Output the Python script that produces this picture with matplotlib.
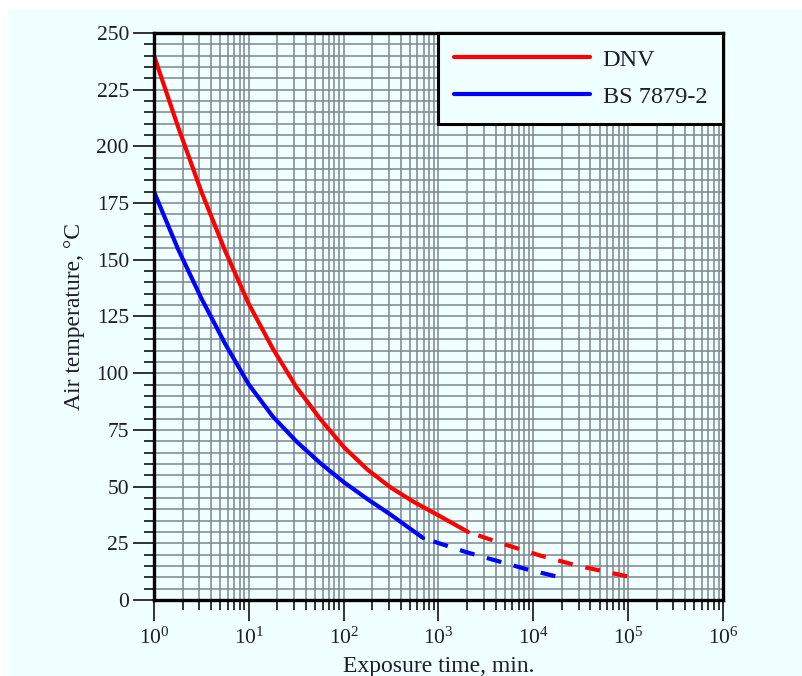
import matplotlib
matplotlib.use('Agg')
from matplotlib import pyplot as plt
from matplotlib.patches import Rectangle
from matplotlib.ticker import LogLocator, MultipleLocator, FixedLocator, NullFormatter
import numpy as np

# curves (time in min, temperature in degC)
dnv_t = [1, 1.78, 3.16, 5.62, 10, 17.8, 31.6, 56.2, 100, 178, 316, 562, 1000, 2050]
dnv_T = [240, 209, 180, 154, 130.5, 111, 94, 80, 67.5, 57.5, 49.5, 43, 37.3, 30]
dnv_t_ext = [2050, 5000, 12000, 30000, 118000]
dnv_T_ext = [30, 24.5, 19.5, 15, 9.7]

bs_t = [1, 1.78, 3.16, 5.62, 10, 17.8, 31.6, 56.2, 100, 178, 316, 500, 690]
bs_T = [180, 155, 133, 113, 95, 81, 70, 60.5, 52, 44.5, 37.5, 31.5, 27.3]
bs_t_ext = [690, 2000, 8600, 20500]
bs_T_ext = [27.3, 21, 13.5, 9.7]

labels = ['DNV', 'BS 7879-2']
colors = ['#ff0000', '#0000ff']

bg = '#f0ffff'
txt = '#1c1c2e'
plt.rcParams['font.family'] = ['Liberation Serif', 'DejaVu Serif']
plt.rcParams['mathtext.fontset'] = 'custom'
plt.rcParams['mathtext.rm'] = 'Liberation Serif'

fig = plt.figure(figsize=(8.03, 6.76), dpi=100, facecolor='white')
fig.patches.append(Rectangle((8/803, 0), 1, 1 - 9/676, transform=fig.transFigure,
                             facecolor=bg, edgecolor='none', zorder=-10))
ax = fig.add_axes([154/803, 1 - 600/676, 569/803, 567/676])
ax.set_facecolor(bg)

ax.set_xscale('log')
ax.set_xlim(1, 1e6)
ax.set_ylim(0, 250)

gap_first = (3.6 * 3, (3.6, 3.1))
ax.plot(dnv_t, dnv_T, color=colors[0], lw=3, label=labels[0], solid_capstyle='round',
        solid_joinstyle='round')
ax.plot(dnv_t_ext, dnv_T_ext, color=colors[0], lw=3, linestyle=gap_first)
ax.plot(bs_t, bs_T, color=colors[1], lw=3, label=labels[1], solid_capstyle='round',
        solid_joinstyle='round')
ax.plot(bs_t_ext, bs_T_ext, color=colors[1], lw=3, linestyle=gap_first)

ax.yaxis.set_major_locator(MultipleLocator(25))
ax.yaxis.set_minor_locator(MultipleLocator(5))
ax.xaxis.set_major_locator(FixedLocator([10.0**k for k in range(7)]))
ax.xaxis.set_minor_locator(LogLocator(base=10, subs=np.arange(2, 10), numticks=20))
ax.xaxis.set_minor_formatter(NullFormatter())
ax.set_xticklabels([r'$\mathregular{10^{%d}}$' % k for k in range(7)])

ax.grid(True, which='both', color='#7d8590', lw=1.1)
ax.set_axisbelow(True)

ax.tick_params(which='major', length=15, width=1.3, color='#222222', direction='out',
               labelsize=15.5, labelcolor=txt)
ax.tick_params(axis='y', which='major', pad=3)
ax.tick_params(axis='x', which='major', pad=5)
ax.tick_params(which='minor', length=7, width=1.3, color='#222222', direction='out')
for s in ax.spines.values():
    s.set_linewidth(2.4)
    s.set_color('black')
    s.set_zorder(5)

ax.set_ylabel('Air temperature, °C', fontsize=17, color=txt, labelpad=8)
ax.set_xlabel('Exposure time, min.', fontsize=17, color=txt, labelpad=5)

leg = ax.legend(loc='upper right', bbox_to_anchor=(1, 1), borderaxespad=0,
                fontsize=17.5, handlelength=5.6, handletextpad=0.53, fancybox=False,
                framealpha=1, facecolor=bg, edgecolor='black', borderpad=0.65,
                labelspacing=0.62)
leg.get_frame().set_linewidth(2.2)
for t in leg.get_texts():
    t.set_color(txt)

fig.savefig('out.png', dpi=100, facecolor=fig.get_facecolor())
